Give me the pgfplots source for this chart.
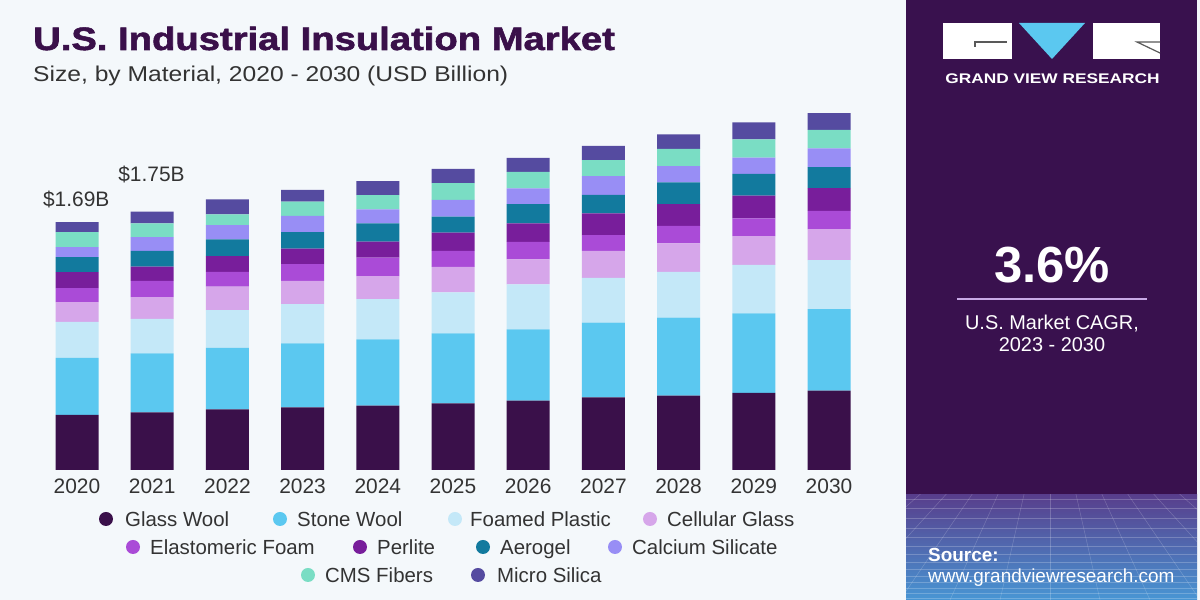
\documentclass[border=0pt]{standalone}
\usepackage{pgfplots}
\pgfplotsset{compat=1.18}
\usepackage{pgfplotstable}
\usepackage{graphicx}
\usepackage{fontspec}
\setmainfont{Liberation Sans}
\newfontfamily\heavyfont{Liberation Sans}[FakeBold=1.6]

\definecolor{bgc}{RGB}{244,248,251}
\definecolor{panel}{RGB}{57,17,78}
\definecolor{panelB}{RGB}{88,62,140}
\definecolor{blueB}{RGB}{72,150,212}
\definecolor{titlec}{RGB}{58,16,74}
\definecolor{txt}{RGB}{51,51,51}
\definecolor{cGlass}{RGB}{58,16,74}
\definecolor{cStone}{RGB}{91,200,240}
\definecolor{cFoam}{RGB}{196,232,248}
\definecolor{cCell}{RGB}{214,166,234}
\definecolor{cElast}{RGB}{170,75,215}
\definecolor{cPerl}{RGB}{120,30,155}
\definecolor{cAero}{RGB}{18,122,158}
\definecolor{cCalc}{RGB}{152,142,245}
\definecolor{cCMS}{RGB}{122,221,196}
\definecolor{cMicro}{RGB}{85,75,160}
\definecolor{lav}{RGB}{200,170,230}

\pgfplotstableread{
x glass stone foam cell elast perl aero calc cms micro
0  0.375 0.388 0.245 0.136 0.095 0.109 0.102 0.068 0.102 0.068
1  0.393 0.402 0.234 0.148 0.111 0.097 0.107 0.093 0.095 0.080
2  0.413 0.419 0.257 0.159 0.102 0.107 0.114 0.097 0.073 0.102
3  0.427 0.436 0.266 0.159 0.114 0.106 0.112 0.111 0.097 0.080
4  0.438 0.452 0.274 0.157 0.125 0.109 0.125 0.095 0.097 0.095
5  0.454 0.477 0.279 0.174 0.109 0.123 0.109 0.114 0.114 0.097
6  0.472 0.486 0.306 0.170 0.120 0.125 0.131 0.107 0.113 0.095
7  0.495 0.508 0.306 0.184 0.107 0.148 0.125 0.129 0.109 0.097
8  0.506 0.531 0.313 0.193 0.120 0.148 0.148 0.111 0.116 0.100
9  0.526 0.541 0.329 0.197 0.121 0.154 0.148 0.111 0.125 0.116
10 0.540 0.556 0.334 0.211 0.123 0.155 0.143 0.129 0.125 0.114
}\datatable

\begin{document}
\begin{tikzpicture}
\useasboundingbox (0,0) rectangle (1200bp,600bp);
\fill[bgc] (0,0) rectangle (1200bp,600bp);
% right panel
\fill[panel] (906bp,0) rectangle (1197bp,600bp);
\shade[top color=panelB, bottom color=blueB] (906bp,0) rectangle (1197bp,105bp);
\begin{scope}
\clip (906bp,0) rectangle (1197bp,105bp);
\foreach \yy in {2,7,12,18,24,31,38,46,54,63,72,82,92,101} {
  \draw[white, opacity=0.22, line width=0.5bp] (906bp,\yy bp) -- (1197bp,\yy bp);
}
\foreach \xx in {-900,-850,...,3000} {
  \draw[white, opacity=0.2, line width=0.5bp] (1050bp,220bp) -- (\xx bp,0bp);
}
\end{scope}

\begin{axis}[
  at={(39.4bp,130bp)}, anchor=south west,
  scale only axis, width=827.2bp, height=381.8bp,
  ybar stacked, bar width=43bp,
  xmin=-0.5, xmax=10.5, ymin=0, ymax=2.6,
  enlargelimits=false, clip=false,
  axis line style={draw=none}, tick style={draw=none},
  ytick=\empty,
  xtick={0,1,2,3,4,5,6,7,8,9,10},
  xticklabels={2020,2021,2022,2023,2024,2025,2026,2027,2028,2029,2030},
  xticklabel style={font=\fontsize{21}{21}\selectfont, text=txt, inner sep=0pt, anchor=north, yshift=-9bp},
]
\addplot[fill=cGlass, draw=none] table[x=x,y=glass] {\datatable};
\addplot[fill=cStone, draw=none] table[x=x,y=stone] {\datatable};
\addplot[fill=cFoam, draw=none] table[x=x,y=foam] {\datatable};
\addplot[fill=cCell, draw=none] table[x=x,y=cell] {\datatable};
\addplot[fill=cElast, draw=none] table[x=x,y=elast] {\datatable};
\addplot[fill=cPerl, draw=none] table[x=x,y=perl] {\datatable};
\addplot[fill=cAero, draw=none] table[x=x,y=aero] {\datatable};
\addplot[fill=cCalc, draw=none] table[x=x,y=calc] {\datatable};
\addplot[fill=cCMS, draw=none] table[x=x,y=cms] {\datatable};
\addplot[fill=cMicro, draw=none] table[x=x,y=micro] {\datatable};
\node[anchor=base, text=txt, inner sep=0, font=\fontsize{21}{21}\selectfont] at ([yshift=16bp]axis cs:-0.01,1.688) {\$1.69B};
\node[anchor=base, text=txt, inner sep=0, font=\fontsize{21}{21}\selectfont] at ([yshift=30bp]axis cs:0.99,1.76) {\$1.75B};
\end{axis}

\begin{scope}[x=1bp,y=-1bp,yshift=600bp]
% title
\node[anchor=base west, inner sep=0, text=titlec] at (33,50) {\scalebox{1.18}[1]{\fontsize{32.5}{32.5}\selectfont\heavyfont\bfseries U.S. Industrial Insulation Market}};
\node[anchor=base west, inner sep=0, text=txt] at (33,82) {\scalebox{1.15}[1]{\fontsize{21.5}{21.5}\selectfont Size, by Material, 2020 - 2030 (USD Billion)}};
% legend
\begin{scope}[every node/.style={anchor=base west, inner sep=0, text=txt, font=\fontsize{20.5}{20.5}\selectfont}]
\fill[cGlass] (106,519) circle (7);  \node at (125,526.5) {Glass Wool};
\fill[cStone] (280,519) circle (7);  \node at (297,526.5) {Stone Wool};
\fill[cFoam]  (455,519) circle (7);  \node at (470,526.5) {Foamed Plastic};
\fill[cCell]  (650,519) circle (7);  \node at (667,526.5) {Cellular Glass};
\fill[cElast] (133,547) circle (7);  \node at (150,554.5) {Elastomeric Foam};
\fill[cPerl]  (360,547) circle (7);  \node at (377,554.5) {Perlite};
\fill[cAero]  (483,547) circle (7);  \node at (500,554.5) {Aerogel};
\fill[cCalc]  (615,547) circle (7);  \node at (632,554.5) {Calcium Silicate};
\fill[cCMS]   (308,575) circle (7);  \node at (325,582.5) {CMS Fibers};
\fill[cMicro] (478,575) circle (7);  \node at (497,582.5) {Micro Silica};
\end{scope}
% logo
\fill[white] (943,23) rectangle (1012,59);
\draw[gray!70!black, line width=1.2] (975,47) -- (975,42) -- (1007,42);
\fill[cStone] (1019,23) -- (1085,23) -- (1052,59) -- cycle;
\fill[white] (1093,23) rectangle (1160,59);
\draw[gray!70!black, line width=1.2] (1160,42) -- (1137,42) -- (1160,53);
\node[anchor=base, inner sep=0, text=white] at (1052.5,84) {\scalebox{1.24}[1]{\fontsize{14}{14}\selectfont\bfseries GRAND VIEW RESEARCH}};
% CAGR
\node[anchor=base, inner sep=0, text=white] at (1052,283) {\fontsize{51}{51}\selectfont\bfseries 3.6\%};
\draw[lav, line width=1.6] (957,299) -- (1147,299);
\node[anchor=base, inner sep=0, text=white] at (1052,330) {\fontsize{20}{20}\selectfont U.S. Market CAGR,};
\node[anchor=base, inner sep=0, text=white] at (1052,352) {\fontsize{20}{20}\selectfont 2023 - 2030};
% source
\node[anchor=base west, inner sep=0, text=white] at (928,562) {\fontsize{19}{19}\selectfont\bfseries Source:};
\node[anchor=base west, inner sep=0, text=white] at (928,583) {\fontsize{19}{19}\selectfont www.grandviewresearch.com};
\end{scope}
\end{tikzpicture}
\end{document}
